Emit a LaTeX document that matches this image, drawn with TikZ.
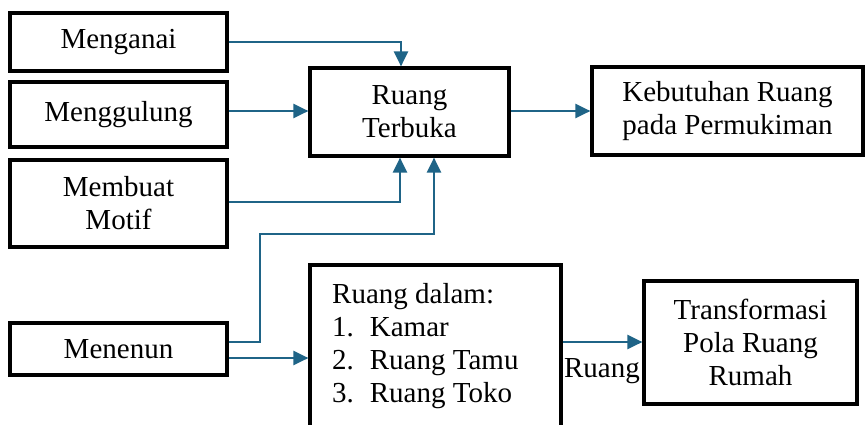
\documentclass[tikz,border=0pt]{standalone}
\usepackage{fontspec}
\newfontfamily\tnr{Liberation Serif}
\usetikzlibrary{arrows.meta}
\definecolor{arrc}{RGB}{31,100,135}
\begin{document}
\begin{tikzpicture}[x=1pt,y=-1pt,
  box/.style={draw=black,line width=3.2pt,rectangle,inner sep=0pt,align=center,
    font=\tnr\fontsize{29}{33}\selectfont},
  txt/.style={inner sep=0pt,font=\tnr\fontsize{29}{33}\selectfont},
  arr/.style={draw=arrc,line width=2.2pt,-{Triangle[length=15pt,width=14pt]}}]
\useasboundingbox (0,0) rectangle (865,424);
\node[box,minimum width=217pt,minimum height=58pt] (Menganai) at (118.5,42) {Menganai};
\node[box,minimum width=217pt,minimum height=65pt] (Menggulung) at (118.5,114.5) {Menggulung};
\node[box,minimum width=217pt,minimum height=87pt] (Motif) at (118.5,203.5) {Membuat\\Motif};
\node[box,minimum width=217pt,minimum height=52pt] (Menenun) at (118.5,349) {Menenun};
\node[box,minimum width=199pt,minimum height=88pt] (RT) at (409.5,112) {Ruang\\Terbuka};
\node[box,minimum width=271pt,minimum height=88pt] (KR) at (727.5,111) {Kebutuhan Ruang\\pada Permukiman};
\node[box,minimum width=251pt,minimum height=180pt] (RD) at (435.5,355) {};
\node[txt,anchor=north west,align=left] (RDt) at (332,283) {Ruang dalam:\\
  1.\hspace{0.55em}Kamar\\2.\hspace{0.55em}Ruang Tamu\\3.\hspace{0.55em}Ruang Toko};
\node[box,minimum width=213pt,minimum height=123pt] (TR) at (750.5,342.5) {Transformasi\\Pola Ruang\\Rumah};
\node[txt] (lab) at (602,371) {Ruang};
\coordinate (m1) at (260,342);
\coordinate (m2) at (260,234);
\draw[arr] (Menganai.east) -| (RT.north -| 401,0);
\draw[arr] (Menggulung.east |- 0,111) -- (RT.west |- 0,111);
\draw[arr] (Motif.east |- 0,202) -| (RT.south -| 400,0);
\draw[arr] (Menenun.east |- m1) -- (m1) -- (m2) -| (RT.south -| 434,0);
\draw[arr] (Menenun.east |- 0,358) -- (RD.west |- 0,358);
\draw[arr] (RT.east |- 0,111) -- (KR.west |- 0,111);
\draw[arr] (RD.east |- 0,342) -- (TR.west |- 0,342);
\end{tikzpicture}
\end{document}
